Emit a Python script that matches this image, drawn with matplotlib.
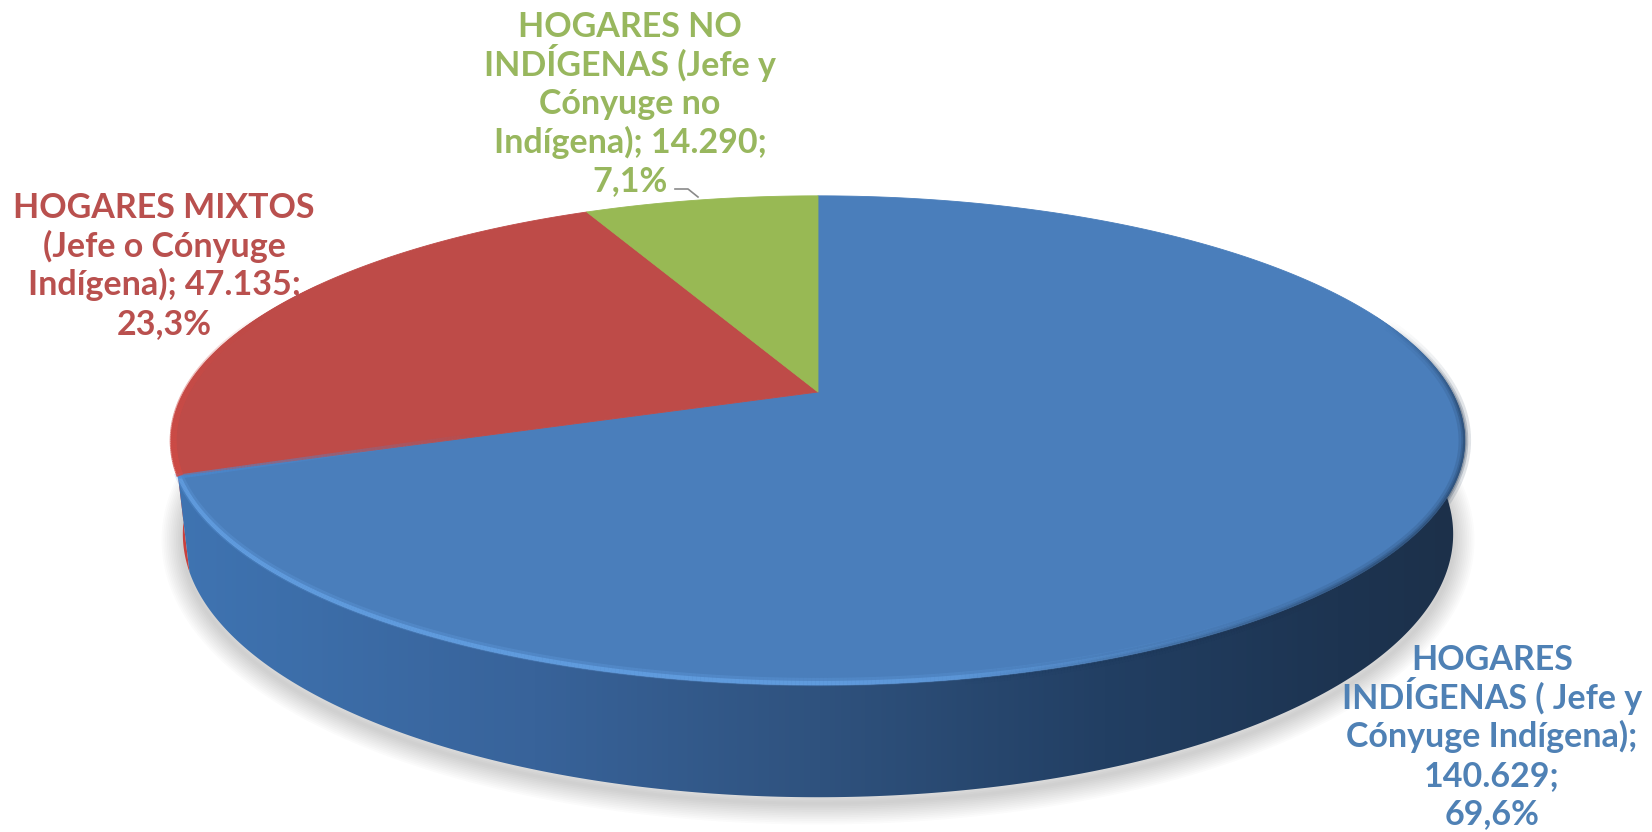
import numpy as np
import matplotlib
matplotlib.use('Agg')
import matplotlib.pyplot as plt
from matplotlib.collections import LineCollection
from matplotlib.colors import LinearSegmentedColormap, to_rgb
from matplotlib.patches import Polygon

# data
values = [140629, 47135, 14290]
percents = ['69,6%', '23,3%', '7,1%']
value_labels = ['140.629', '47.135', '14.290']
colors = ['#4A7EBB', '#BE4B48', '#98B954']
lines_blue = ['HOGARES', 'INDÍGENAS ( Jefe y', 'Cónyuge Indígena);', value_labels[0] + ';', percents[0]]
lines_red = ['HOGARES MIXTOS', '(Jefe o Cónyuge', 'Indígena); ' + value_labels[1] + ';', percents[1]]
lines_green = ['HOGARES NO', 'INDÍGENAS (Jefe y', 'Cónyuge no', 'Indígena); ' + value_labels[2] + ';', percents[2]]

# look of the tilted disc, in pixels
cx, cy = 818, 392
rx, ry = 634, 235
tilt = 0.198
depth = 90
narrow = 0.018


def project(angle, drop=0.0):
    # angle in degrees, clockwise from the top of the disc
    t = np.radians(angle)
    u, v = np.sin(t), np.cos(t)
    w = 1 + tilt * v
    return cx + rx * (1 - narrow * drop) * u / w, cy - ry * v / w + drop * depth / w


def rim(a0, a1, drop=0.0):
    a = np.linspace(a0, a1, 300)
    x, y = project(a, drop)
    return np.column_stack([x, y])


def faded_line(x, y, color, lw, alpha, zorder=5):
    # line whose opacity changes along its length
    pts = np.column_stack([x, y]).reshape(-1, 1, 2)
    segs = np.concatenate([pts[:-1], pts[1:]], axis=1)
    rgb = np.array(to_rgb(color))
    rgba = [(*rgb, al) for al in alpha[:-1]]
    ax.add_collection(LineCollection(segs, colors=rgba, linewidths=lw, zorder=zorder,
                                     capstyle='butt'))


def add_label(lines, x, y0, color):
    # one text per line so the line pitch stays even
    for i, line in enumerate(lines):
        ax.text(x, y0 + i * 38.6, line, color=color, family='Lato', fontweight='bold',
                fontsize=24.5, ha='center', va='baseline', zorder=6)


fig = plt.figure(figsize=(16.52, 8.32), dpi=100)
ax = fig.add_axes([0, 0, 1, 1])
ax.axis('off')

shares = np.array(values) / sum(values) * 360
edges = np.concatenate([[0], np.cumsum(shares)])

# soft shadow under the disc
outline = rim(0, 360, 1.0)
for i in range(12):
    ax.add_patch(Polygon(outline + [0, 6], closed=True, fc='none',
                         ec='#555555', lw=2 + i * 2.6, alpha=0.022, zorder=1,
                         joinstyle='round'))

# side wall
wall_cmap = LinearSegmentedColormap.from_list('wall', [
    (0.0, '#3F74B2'), (0.28, '#38639A'), (0.5, '#2F527E'),
    (0.72, '#223F63'), (0.9, '#1D3451'), (1.0, '#1C3049')])
red_wall = np.vstack([rim(edges[1], 300), rim(300, edges[1], 1.0)])
ax.add_patch(Polygon(red_wall, closed=True, fc='#C9403D', ec='none', zorder=2))
blue_wall = np.vstack([rim(70, edges[1]), rim(edges[1], 70, 1.0)])
wall_patch = Polygon(blue_wall, closed=True, fc='none', ec='none', zorder=3)
ax.add_patch(wall_patch)
img = ax.imshow(np.linspace(0, 1, 512).reshape(1, -1), cmap=wall_cmap,
                extent=(170, 1470, 840, 300), aspect='auto', zorder=3)
img.set_clip_path(wall_patch)

# top face
for i in range(3):
    top = np.vstack([[cx, cy], rim(edges[i], edges[i + 1])])
    ax.add_patch(Polygon(top, closed=True, fc=colors[i], ec=colors[i], lw=0.6,
                         zorder=4, joinstyle='round'))

# bevel along the front edge, bright on the left
a = np.linspace(edges[1], 135, 400)
x, y = project(a)
fade = np.clip((a - 135) / 45, 0, 1)
faded_line(x, y - 3, '#6AA9EE', 6, 0.22 * fade)
faded_line(x, y - 2, '#6AA9EE', 3, 0.6 * fade)

# dark blur along the front edge on the right
a = np.linspace(170, 72, 400)
x, y = project(a)
fade = np.clip((170 - a) / 40, 0, 1) * np.clip((a - 72) / 22, 0, 1)
for lw, al in [(9, 0.14), (5, 0.22), (2.5, 0.3)]:
    faded_line(x, y, '#1D3451', lw, al * fade)

# highlights on the slice cut and the red rim
cut_x, cut_y = project(edges[1])
t = np.linspace(0, 1, 100)
faded_line(cut_x + 300 * t, cut_y - 42 * t + 1, '#4A8AD2', 3, 0.7 * (1 - t))
a = np.linspace(edges[1], 290, 100)
x, y = project(a)
faded_line(x + 2, y, '#D04A45', 5, 0.9 * (1 - (a - edges[1]) / (290 - edges[1])))

# labels
add_label(lines_blue, 1492, 670, '#4F81B5')
add_label(lines_red, 164, 218, '#B9504E')
add_label(lines_green, 630, 37, '#98B75E')

# leader line of the small slice
ax.plot([675, 688, 698], [189, 189, 197], color='#8A8A8A', lw=1.2, zorder=6)

ax.set_xlim(0, 1652)
ax.set_ylim(832, 0)
fig.savefig('out.png', dpi=100, facecolor='white')
